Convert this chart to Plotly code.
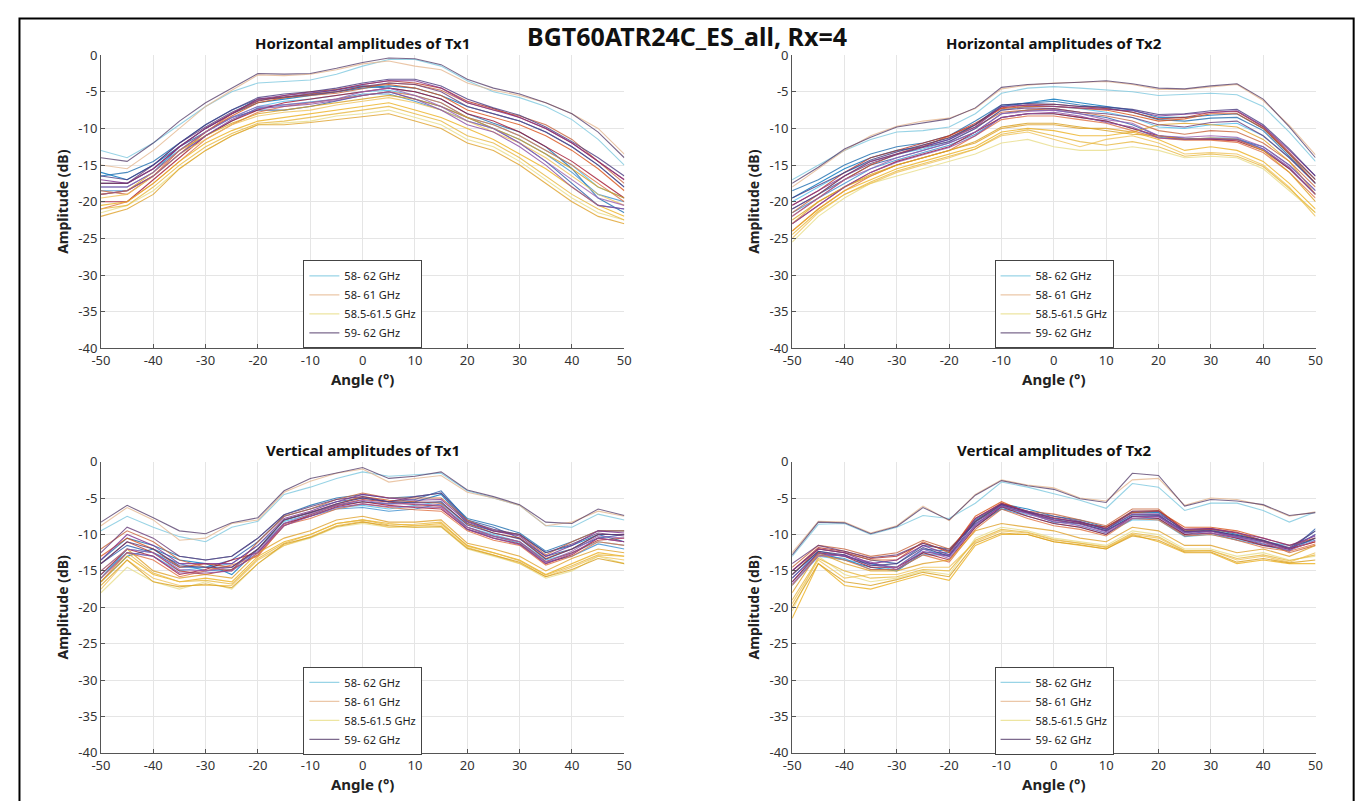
import plotly.graph_objects as go

angles = [-50, -45, -40, -35, -30, -25, -20, -15, -10, -5, 0, 5, 10, 15, 20, 25, 30, 35, 40, 45, 50]
bands = ['58- 62 GHz', '58- 61 GHz', '58.5-61.5 GHz', '59- 62 GHz']
panel_titles = ['Horizontal amplitudes of Tx1', 'Horizontal amplitudes of Tx2',
                'Vertical amplitudes of Tx1', 'Vertical amplitudes of Tx2']
y_ticks = [0, -5, -10, -15, -20, -25, -30, -35, -40]
x_ticks = [-50, -40, -30, -20, -10, 0, 10, 20, 30, 40, 50]

# Horizontal, Tx1  (dB per angle, several sweeps per band)
h_tx1_58_62 = [
    [-13, -14, -12, -9.5, -7, -5, -3.8, -3.6, -3.4, -2.6, -1.5, -0.6, -0.6, -1.5, -3.5, -5, -5.8, -7, -8.8, -11.5, -15],
    [-16, -17, -15, -12.5, -10, -8, -6.5, -6, -5.5, -5, -4.5, -4.2, -4.5, -5.5, -7, -8, -9, -10.5, -12.5, -15, -18],
    [-18, -18, -16, -12.5, -10.5, -8.5, -7.5, -7.5, -7, -6.3, -5.5, -5, -6, -7, -8.5, -10, -12, -14.5, -17.5, -20.5, -21],
    [-17.5, -17.5, -15.5, -13, -10.5, -8.5, -7, -6.3, -6, -5.5, -5, -4.8, -5.5, -6.5, -8.5, -9.5, -11, -13, -15, -18, -19.5],
    [-16.5, -16, -14.5, -12, -9.5, -7.5, -6, -5.8, -5.3, -4.8, -4.2, -4.5, -5, -6, -8, -9.3, -10.5, -12.5, -15.5, -19.5, -21.5],
    [-18.5, -18.5, -16.5, -13.5, -11, -9, -7.2, -6.8, -6.5, -6, -5.3, -5.3, -6.3, -7.5, -9, -10, -11.5, -13.5, -16, -19, -20],
]
h_tx1_58_61 = [
    [-15, -15.5, -13, -10, -7, -4.8, -2.7, -2.8, -2.6, -2, -1.2, -0.8, -1.5, -2, -3.8, -4.8, -5.5, -6.5, -8, -10, -13.5],
    [-19, -18.5, -16.5, -13, -10.5, -8.3, -6.5, -5.8, -5.3, -5, -4.3, -4, -4.5, -5.5, -7.5, -8.5, -9.5, -11, -13, -15.5, -18.5],
    [-20, -20, -17, -14, -11, -9, -7.5, -6.5, -6, -5.5, -5, -4.5, -5, -6, -8, -9, -10.5, -12.5, -14.5, -17, -19.5],
    [-18.5, -19, -16.5, -13.5, -10.5, -8, -6, -5.8, -5.5, -5.2, -4.6, -3.8, -4, -4.8, -6.5, -7.5, -8.3, -9.5, -11.5, -14.5, -17.5],
    [-17.5, -17.5, -15.5, -12.5, -10, -8, -6.3, -5.5, -5, -4.7, -4, -3.5, -3.8, -4.5, -6.3, -7.3, -8.5, -10, -12, -14.5, -17],
    [-21, -20, -17.5, -14.5, -11.5, -9.5, -7.8, -7, -6.5, -6, -5.5, -5, -5.5, -6.5, -8.5, -9.5, -11, -13, -15, -17.5, -20],
]
h_tx1_585_615 = [
    [-21.5, -20.5, -18.5, -15.5, -13, -11, -9.5, -9.3, -9, -8.3, -8, -7.5, -8.5, -9.5, -11.5, -12.5, -14.5, -17, -19.5, -21.5, -22.5],
    [-20.5, -20, -17.5, -14.5, -12, -10.3, -9, -8.5, -8, -7.5, -7, -6.5, -7.5, -8.5, -10, -11.5, -13.5, -15.5, -18, -20.5, -22],
    [-22, -21, -19, -15.5, -13, -11, -9.5, -9.5, -9.2, -8.8, -8.3, -8, -9, -10, -12, -13, -15, -17.5, -20, -22, -23],
    [-19.5, -19, -16.5, -13.5, -11.5, -9.5, -8.3, -7.8, -7.5, -6.8, -6.3, -5.8, -6.5, -7.5, -9, -10.5, -12, -14, -16.5, -19, -20.5],
    [-21, -20.5, -18, -15, -12.5, -10.7, -9.3, -9, -8.5, -8, -7.5, -7, -8, -9, -11, -12, -14, -16.5, -19, -21, -22.5],
    [-19, -18.5, -16, -13, -11, -9.3, -8, -7.5, -7, -6.5, -6, -5.5, -6, -7, -8.5, -10, -11.5, -13.5, -15.5, -18, -19.5],
]
h_tx1_59_62 = [
    [-14, -14.5, -12, -9, -6.5, -4.5, -2.5, -2.6, -2.5, -1.8, -1, -0.4, -0.5, -1.3, -3.3, -4.5, -5.3, -6.5, -8, -10.5, -14],
    [-17, -17.5, -15.5, -12.5, -10, -8, -6, -5.5, -5.2, -4.8, -4, -3.5, -3.5, -4.5, -6.5, -7.5, -8.5, -10, -12, -14.5, -17],
    [-18, -18, -16, -13, -10.5, -8.5, -7, -6.8, -6.5, -6, -5, -4.5, -5.5, -7, -9, -10, -12, -14.5, -17, -19.5, -20.5],
    [-17.5, -17.5, -15, -12, -9.8, -7.8, -6.2, -5.7, -5.4, -5, -4.3, -3.8, -4, -5, -7, -8, -9, -10.5, -12.5, -15, -18],
    [-16.5, -17, -15, -12, -9.5, -7.5, -5.8, -5.3, -5, -4.5, -3.8, -3.3, -3.3, -4.2, -6, -7.2, -8.2, -9.8, -11.8, -14, -16.5],
    [-19, -18.5, -16.5, -13.5, -11, -8.8, -7.3, -7, -6.7, -6.2, -5.5, -5, -6, -7.5, -9.5, -10.5, -12.5, -15, -18, -20.5, -21],
]

# Horizontal, Tx2
h_tx2_58_62 = [
    [-17, -15, -13, -11.5, -10.5, -10.3, -9.8, -8, -5.2, -4.5, -4.3, -4.5, -4.7, -5, -5.5, -5.3, -5.2, -5.4, -7, -10.5, -14.5],
    [-19.5, -17.5, -15.5, -14, -13, -12.5, -11.5, -9.5, -7, -6.5, -6, -6.5, -7, -7.5, -8.5, -8.5, -8.2, -8, -10, -13.5, -17],
    [-21, -19, -17, -15, -14, -13, -12, -10.5, -8, -7.5, -7.5, -8, -8.5, -9.5, -11, -11.3, -11.5, -11.5, -12.5, -15, -18.5],
    [-20, -18, -16, -14.5, -13.5, -12.8, -11.8, -10, -7.5, -7, -7, -7.3, -7.8, -8.5, -9.8, -10, -9.5, -9.3, -11, -14, -17.5],
    [-18.5, -17, -15, -13.5, -12.5, -12, -11, -9, -6.8, -6.5, -6.3, -6.8, -7.2, -7.8, -8.8, -9, -8.6, -8.5, -10.3, -13.8, -17.5],
    [-21.5, -19.5, -17.5, -15.5, -14.3, -13.3, -12.3, -10.8, -8.5, -8, -8, -8.5, -9, -10, -11.2, -11.5, -11.3, -11.3, -12.8, -15.5, -19],
]
h_tx2_58_61 = [
    [-18, -15.5, -13, -11, -9.7, -9, -8.6, -7.3, -4.6, -4.1, -3.8, -3.7, -3.6, -4, -4.7, -4.7, -4.3, -4, -6.2, -9.6, -13.6],
    [-22, -19.5, -17, -15, -13.5, -12.5, -11, -9.5, -7.3, -7, -7, -7.3, -7.5, -8.2, -9, -8.7, -8, -8, -10, -13.5, -17.5],
    [-23, -20.5, -18, -16, -14.5, -13.5, -12.5, -10.5, -8.5, -8, -8, -8.5, -9, -10, -11, -11.5, -11.5, -11.7, -13, -15.5, -19],
    [-21.5, -19, -16.5, -14.5, -13.5, -12.3, -11.2, -9.8, -7.8, -7.5, -7.3, -7.8, -8.3, -9, -10.3, -10.8, -10.3, -10.5, -12, -14.5, -18],
    [-20.5, -18.5, -16, -14, -13, -12, -11, -9.3, -7.2, -6.8, -6.7, -7, -7.3, -7.8, -8.7, -8.5, -7.8, -7.7, -9.8, -13.3, -17],
    [-24, -21, -18.5, -16.5, -15, -14, -13, -11, -8.8, -8.3, -8.3, -8.8, -9.3, -10.3, -11.3, -11.6, -11.6, -11.9, -13.3, -16, -19.5],
]
h_tx2_585_615 = [
    [-25.5, -22, -19.5, -17.5, -16.5, -15.5, -14.5, -13.5, -12, -11.5, -12.5, -13, -13, -12.5, -13, -14, -13.8, -14, -15.5, -18.5, -21.5],
    [-24, -21, -18.5, -17, -15.5, -14.5, -13.5, -12.5, -10.5, -10, -10.3, -11, -11, -10.5, -11.5, -13, -12.5, -13, -14.5, -17.5, -21],
    [-23, -20, -18, -16.5, -15, -14, -13, -12, -10, -9.5, -9.5, -10, -10, -10.5, -9.5, -9.3, -9.5, -9.8, -11.5, -14.5, -19],
    [-25, -21.5, -19, -17.5, -16, -15, -14, -12.8, -11, -10.5, -11.5, -12.5, -11.5, -11, -12, -13.5, -13.3, -13.5, -15, -18, -22],
    [-24.5, -21.3, -19, -17.3, -15.8, -14.8, -13.8, -12.8, -10.8, -10.2, -11, -11.8, -12.3, -11.8, -12.5, -13.8, -13.5, -13.8, -15.2, -18.2, -21.5],
    [-22.5, -20, -18, -16.3, -15, -14, -13, -11.8, -9.8, -9.3, -9.3, -9.8, -10.3, -10.8, -11, -11.5, -11.3, -11.5, -13, -16, -20],
]
h_tx2_59_62 = [
    [-17.5, -15.3, -12.8, -11.2, -9.8, -9.2, -8.7, -7.2, -4.4, -4, -3.9, -3.7, -3.5, -3.9, -4.5, -4.6, -4.2, -3.9, -6, -9.8, -14],
    [-20.5, -18.5, -16.5, -14.5, -13.5, -12.5, -11.5, -9.8, -7, -6.8, -7, -7.2, -7.3, -7.6, -8.3, -8.1, -7.8, -7.6, -9.7, -13, -16.5],
    [-22, -19.5, -17, -15.5, -14, -13, -12, -10.5, -8, -7.7, -7.5, -8, -8.8, -9.3, -11, -11.2, -11, -11.2, -12.5, -15, -18.5],
    [-21, -19, -16.5, -14.8, -13.6, -12.6, -11.8, -10, -7.5, -7.2, -7.3, -7.8, -8, -8.5, -9.5, -9.8, -9.2, -9, -11, -14, -17.5],
    [-19.5, -17.8, -16, -14.3, -13.2, -12.3, -11.3, -9.5, -6.8, -6.6, -6.7, -7, -7.1, -7.4, -8.1, -8, -7.6, -7.4, -9.5, -12.8, -16.5],
    [-23, -20.5, -18, -16, -14.6, -13.6, -12.6, -11, -8.5, -8, -7.8, -8.3, -9.2, -9.8, -11.3, -11.5, -11.4, -11.5, -12.8, -15.3, -19],
]

# Vertical, Tx1
v_tx1_58_62 = [
    [-9.5, -7.5, -9, -10.3, -11, -9, -8.2, -4.5, -3.5, -2.3, -1.4, -2, -1.8, -1.6, -4, -5, -6, -8.8, -9, -7.2, -8],
    [-16.5, -13, -12, -13.5, -14, -15.5, -12, -8, -7, -6, -5.5, -5.8, -5.5, -4.5, -8.5, -9.5, -10, -12.5, -11.5, -10, -11],
    [-14, -11.5, -12.5, -14.5, -14.5, -13.5, -11, -7.5, -6.5, -5.5, -5, -5.5, -5.2, -4, -8, -9, -10.5, -13, -12, -10.5, -10],
    [-15.5, -12.5, -13, -15, -14.5, -14, -11.5, -8.2, -7.3, -6.3, -6, -6.5, -6, -5.5, -9, -10, -11, -13.5, -12.5, -11, -11.5],
    [-13.5, -10.5, -11.5, -13, -13.5, -13, -10.5, -7.3, -6, -5, -4.5, -5, -4.8, -4.3, -7.8, -8.7, -9.8, -12.3, -11, -9.5, -9.5],
    [-16, -12, -12.5, -14, -15, -14.8, -12, -8.5, -7.5, -6.5, -6.3, -6.8, -6.5, -5.8, -9.3, -10.3, -11.2, -13.8, -13, -11.3, -12],
]
v_tx1_58_61 = [
    [-8.8, -6.3, -8, -10.8, -10.5, -8.5, -8, -4.2, -2.7, -1.6, -1, -2.8, -2.3, -1.9, -4.2, -5, -6, -8.8, -8.3, -6.8, -7.5],
    [-13, -10.5, -12, -14.5, -14, -14.5, -12, -8, -7, -5.8, -4.8, -5.3, -5.5, -5.7, -8.5, -9.8, -10.5, -13.3, -12, -10, -10],
    [-15.5, -12, -13, -15.5, -14.8, -13.5, -12.5, -8.5, -7.5, -6.2, -5.5, -6, -6.3, -6.5, -9.3, -10.5, -11.3, -14, -12.8, -10.5, -11],
    [-12, -9.5, -11, -13.5, -14.5, -15, -11, -7.5, -6.5, -5.2, -4.3, -5, -5, -5, -8, -9.5, -10, -12.8, -11, -9.5, -9.5],
    [-14, -11, -12.5, -15, -15.5, -14.8, -12.8, -8.8, -7.3, -6, -5.2, -5.6, -5.9, -6.1, -9, -10.2, -11, -13.7, -12.5, -10.8, -10.5],
    [-16.5, -12.5, -13.5, -15.8, -15, -14.2, -13, -8.7, -7.8, -6.5, -5.8, -6.3, -6.6, -6.8, -9.5, -10.8, -11.5, -14.2, -13, -11, -11.5],
]
v_tx1_585_615 = [
    [-18, -14.5, -16.5, -17.5, -16.5, -17.5, -14, -11.5, -10.5, -9, -8.5, -9, -9, -9, -12, -13, -14, -16, -15, -13, -14],
    [-16.5, -13, -15.5, -16.5, -16, -16.5, -13, -11, -10, -8.5, -8, -8.5, -8.8, -8.5, -11.5, -12.5, -13.5, -15.5, -14, -12.5, -13],
    [-15, -12, -15, -16, -15.5, -16, -12.5, -10.5, -9.5, -8, -7.5, -8.3, -8.3, -8, -11.2, -12, -13, -15, -13.3, -12, -12.5],
    [-17.5, -13.5, -16, -17, -17, -17, -13.5, -11.5, -10.3, -8.8, -8.2, -9, -8.8, -8.7, -11.8, -12.8, -14, -15.8, -14.5, -13, -13.5],
    [-16, -12.5, -15.3, -16.5, -16.3, -16.8, -13.3, -11.2, -10, -8.5, -8, -8.7, -8.6, -8.3, -11.6, -12.5, -13.6, -15.6, -14.3, -12.8, -13],
    [-17, -13.5, -16.5, -17.2, -16.8, -17.3, -14, -11.3, -10.4, -8.9, -8.3, -8.8, -9, -8.9, -11.9, -12.9, -13.8, -15.8, -14.8, -13.3, -14],
]
v_tx1_59_62 = [
    [-8.3, -6, -7.7, -9.5, -9.9, -8.4, -7.7, -4, -2.3, -1.5, -0.8, -2.3, -2, -1.4, -3.9, -4.8, -5.9, -8.3, -8.5, -6.5, -7.4],
    [-13.5, -10, -11.5, -14, -14, -14, -11.5, -7.8, -6.8, -5.5, -4.5, -5, -5.3, -5.2, -8.3, -9.5, -10.2, -13, -11.5, -9.5, -9.8],
    [-15, -12, -12.5, -14.8, -15, -14.5, -12.3, -8.5, -7.2, -6, -5.3, -5.8, -5.8, -6, -9, -10.2, -11, -13.8, -12.3, -10.2, -10.5],
    [-12.5, -9, -10.5, -13, -13.5, -13, -10.5, -7.3, -6.2, -5.2, -4.8, -5.5, -4.8, -4.3, -8.2, -9.3, -10, -12.5, -11.3, -9.8, -10.2],
    [-14, -11, -12, -14.3, -14.5, -14.5, -12, -8, -7, -5.8, -5, -5.5, -5.6, -5.5, -8.7, -9.8, -10.6, -13.4, -12, -10, -10],
    [-16, -12.5, -13, -15.3, -15.3, -15, -12.5, -8.8, -7.5, -6.3, -5.8, -6.2, -6.2, -6.3, -9.3, -10.5, -11.4, -14, -12.6, -10.5, -11],
]

# Vertical, Tx2
v_tx2_58_62 = [
    [-13, -8.6, -8.5, -10, -9, -7.4, -7.8, -5.7, -2.8, -3.5, -4.4, -5.3, -6.4, -3, -3.5, -6.7, -5.7, -5.7, -6.7, -8.3, -6.9],
    [-16, -12.5, -13.5, -14.5, -15, -12.5, -12.5, -8, -5.8, -6.5, -7.5, -8, -9, -7, -7, -9.5, -9.2, -10, -10.8, -12, -10],
    [-15, -12, -12.5, -13.5, -14, -11.5, -12, -8.5, -6.5, -7, -8.3, -8.5, -9.5, -7.5, -7.5, -10, -9.5, -10.5, -11.3, -12.3, -9.2],
    [-17, -13, -13.5, -14, -15, -12, -13, -9, -6.3, -7.3, -7.8, -8.8, -9.8, -8, -8, -10.3, -10, -10.7, -11, -11.5, -10.8],
    [-15.5, -12.3, -13, -14, -14.5, -12, -12.3, -8.2, -6, -6.8, -7.8, -8.3, -9.3, -7.3, -7.3, -9.8, -9.3, -10.3, -11, -12, -9.5],
    [-16.5, -12.8, -13.3, -14.8, -14.8, -12.8, -12.8, -8.8, -6.5, -7.5, -8.5, -9, -10, -7.8, -7.8, -10.2, -9.8, -10.8, -11.5, -12.2, -10.5],
]
v_tx2_58_61 = [
    [-12.5, -8.2, -8.3, -9.8, -8.8, -6.1, -8.1, -4.5, -2.5, -3.2, -3.6, -5, -5.4, -2.5, -2.3, -6, -5, -5.2, -6, -7.5, -6.9],
    [-15.5, -12, -12.5, -13.5, -13.5, -11, -12.5, -7.5, -5.5, -7, -8, -8.5, -9, -7, -6.8, -9, -9, -9.5, -10.5, -11.5, -10.5],
    [-16.5, -12.5, -13, -14.5, -14.5, -12.5, -13.5, -9, -6.2, -7.5, -8.5, -9, -10, -7.5, -7.8, -10, -9.8, -10.5, -11.5, -12, -11],
    [-14.5, -11.5, -12, -13, -12.5, -10.8, -12, -8.2, -5.8, -6.8, -7.2, -8, -8.8, -6.5, -6.5, -9.5, -9.3, -9.8, -11, -12.5, -11.5],
    [-15, -11.8, -12.3, -13.3, -13, -11.2, -12.3, -7.8, -5.7, -6.9, -7.7, -8.3, -9, -6.8, -6.7, -9.3, -9.2, -9.7, -10.8, -12, -11],
    [-17, -12.8, -13.5, -14.8, -14.8, -12.8, -13.8, -9.3, -6.5, -7.8, -8.8, -9.3, -10.2, -7.8, -8, -10.2, -10, -10.8, -11.8, -12.3, -11.3],
]
v_tx2_585_615 = [
    [-20.5, -13, -15.5, -16.5, -16, -15, -15.5, -10.5, -9, -9.5, -10.5, -11, -11.5, -9.5, -10, -12, -12, -13, -12.5, -13.5, -13],
    [-21.5, -14, -17, -17.5, -16.5, -15.5, -16.3, -11.5, -10, -10, -11, -11.5, -12, -10, -11, -12.5, -12.5, -14, -13.5, -14, -14],
    [-18, -12.5, -14, -15, -15, -14, -13.5, -9.5, -8.5, -9, -9.5, -10.5, -11, -9, -9.5, -11.5, -11.5, -12.5, -12, -13, -11.5],
    [-19.5, -13.5, -16, -15.5, -15.5, -14.5, -14.5, -11, -9.5, -9.8, -10.8, -11.2, -11.8, -10, -10.5, -12.3, -12.2, -13.5, -13, -13.8, -12.5],
    [-19, -13.3, -15, -16, -15.8, -14.8, -15, -10.8, -9.3, -9.7, -10.7, -11.2, -11.7, -9.8, -10.3, -12.2, -12.2, -13.3, -12.8, -13.6, -12.8],
    [-20, -14, -16.5, -17, -16.2, -15.2, -15.8, -11.2, -9.8, -10, -11, -11.4, -12, -10.2, -10.8, -12.4, -12.4, -13.8, -13.3, -13.9, -13.5],
]
v_tx2_59_62 = [
    [-12.8, -8.3, -8.4, -9.9, -8.9, -6.3, -8, -4.6, -2.6, -3.3, -3.8, -5.1, -5.6, -1.6, -1.9, -6.1, -5.2, -5.4, -5.9, -7.4, -7],
    [-15, -12, -12.5, -14, -13.5, -11.5, -12.8, -7.8, -5.8, -6.8, -7.8, -8.3, -9.2, -7.2, -7.2, -9.3, -9.2, -9.8, -10.5, -11.5, -10.2],
    [-16.8, -13, -12.8, -14.2, -14.5, -12, -13.3, -8.8, -6, -7.2, -8.2, -8.8, -9.8, -7.8, -7.6, -9.8, -9.8, -10.4, -11.2, -12.2, -10.8],
    [-14, -11.5, -12.3, -13.2, -12.8, -11.2, -12.2, -8.3, -6.2, -7, -7.5, -8.2, -9.3, -6.8, -6.8, -9.6, -9.5, -10.2, -10.8, -11.8, -9.5],
    [-15.5, -12.3, -12.8, -14.3, -14, -11.8, -13, -8.2, -5.9, -7, -8, -8.5, -9.5, -7.5, -7.4, -9.6, -9.5, -10.1, -10.9, -11.9, -10.5],
    [-16, -12.6, -13, -13.8, -14.8, -12.3, -13, -8.6, -6.1, -7.1, -8, -8.6, -9.6, -7.6, -7.5, -9.7, -9.6, -10.3, -11, -12, -10],
]

panels = [
    [h_tx1_58_62, h_tx1_58_61, h_tx1_585_615, h_tx1_59_62],
    [h_tx2_58_62, h_tx2_58_61, h_tx2_585_615, h_tx2_59_62],
    [v_tx1_58_62, v_tx1_58_61, v_tx1_585_615, v_tx1_59_62],
    [v_tx2_58_62, v_tx2_58_61, v_tx2_585_615, v_tx2_59_62],
]

# shades per band, first one is the one shown in the legend
shades = [
    ['#7fc9e0', '#0072BD', '#2a5caa', '#4DBEEE', '#1f6fb0', '#3a8fd0'],
    ['#e6b992', '#D95319', '#A2142F', '#c8643c', '#b8352a', '#e07040'],
    ['#e9de8a', '#EDB120', '#e0a22a', '#f0c45a', '#e8b840', '#d9a020'],
    ['#5b4470', '#7E2F8E', '#9b5fb0', '#6a3d7a', '#4a3a80', '#8a4aa0'],
]

# the page keeps an 8px body margin, so the figure is the window minus 16px
OFF = 8
W, H = 1370 - 2 * OFF, 809 - 2 * OFF


def px(x):
    return (x - OFF) / W


def py(y):
    return 1 - (y - OFF) / H


# plot areas in window pixels: (left, right, top, bottom)
boxes = [(92, 622, 47, 347), (792, 1322, 47, 347), (92, 622, 463, 761), (792, 1322, 463, 761)]

fig = go.Figure()
font = 'Noto Sans'

for i, groups in enumerate(panels):
    n = '' if i == 0 else str(i + 1)
    leg = 'legend' + n
    for g, lines in enumerate(groups):
        for k, vals in enumerate(lines):
            fig.add_trace(go.Scatter(
                x=angles, y=vals, mode='lines',
                line=dict(color=shades[g][k], width=1.1),
                opacity=0.8,
                name=bands[g], showlegend=(k == 0),
                legend=leg, legendgroup=f'{i}-{g}',
                xaxis='x' + n, yaxis='y' + n))

    l, r, t, b = boxes[i]
    common = dict(showgrid=True, gridcolor='#e5e5e5', zeroline=False,
                  showline=True, linecolor='#555555', linewidth=1,
                  ticks='inside', ticklen=4, tickcolor='#555555',
                  tickfont=dict(family=font, size=13, color='#333333'))
    ax = dict(domain=[px(l), px(r)], range=[-50, 50], tickvals=x_ticks,
              ticktext=[str(v) for v in x_ticks],
              title=dict(text='<b>Angle (°)</b>', standoff=5,
                         font=dict(family=font, size=15, color='#222222')),
              anchor='y' + n, **common)
    ay = dict(domain=[py(b), py(t)], range=[-40, 0], tickvals=y_ticks,
              ticktext=[str(v) for v in y_ticks],
              title=dict(text='<b>Amplitude (dB)</b>', standoff=6,
                         font=dict(family=font, size=14, color='#222222')),
              anchor='x' + n, **common)
    fig.update_layout({'xaxis' + n: ax, 'yaxis' + n: ay})

    fig.update_layout({leg: dict(
        x=px(l + 205), y=py(t + 210), xanchor='left', yanchor='top',
        bgcolor='white', bordercolor='#444444', borderwidth=1,
        font=dict(family=font, size=11, color='#222222'),
        tracegroupgap=0, itemwidth=30)})

    fig.add_annotation(text='<b>' + panel_titles[i] + '</b>', x=px((l + r) / 2),
                       y=py(t - 12), xref='paper', yref='paper',
                       xanchor='center', yanchor='middle', showarrow=False,
                       font=dict(family=font, size=15, color='#111111'))

fig.add_annotation(text='<b>BGT60ATR24C_ES_all, Rx=4</b>', x=px(685), y=py(27),
                   xref='paper', yref='paper', xanchor='center', yanchor='middle',
                   showarrow=False, font=dict(family=font, size=25, color='#111111'))

# outer frame
fig.add_shape(type='rect', xref='paper', yref='paper', x0=px(9.5), x1=0.999,
              y0=-0.02, y1=py(9.5), line=dict(color='black', width=2))

fig.update_layout(width=W, height=H, autosize=False,
                  margin=dict(l=0, r=0, t=0, b=0),
                  paper_bgcolor='white', plot_bgcolor='white')

fig.write_html("out.html", config={'displayModeBar': False})
